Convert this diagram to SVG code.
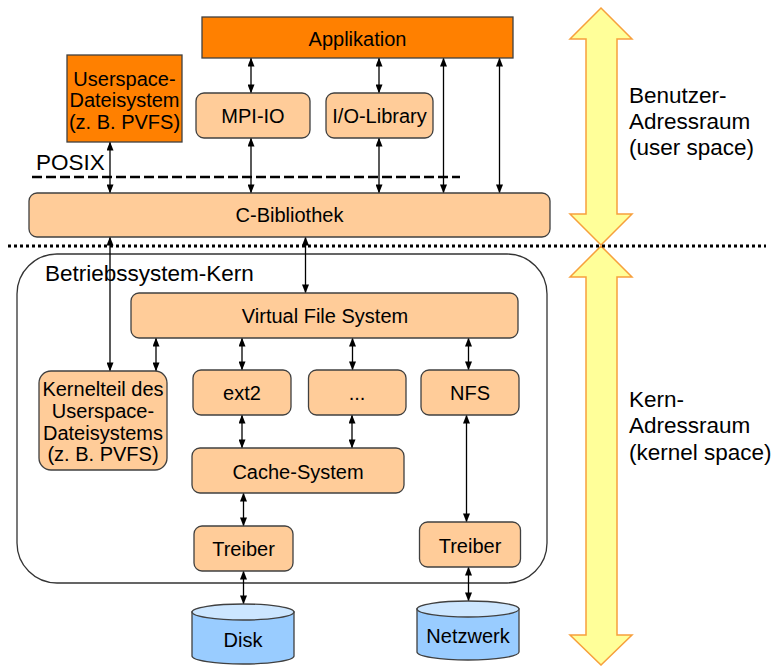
<svg xmlns="http://www.w3.org/2000/svg" width="774" height="666" viewBox="0 0 774 666">
  <defs>
    <marker id="ah" viewBox="0 0 9 7" refX="8.6" refY="3.5" markerWidth="9" markerHeight="7" orient="auto-start-reverse" markerUnits="userSpaceOnUse">
      <path d="M0,0 L9,3.5 L0,7 z" fill="#000"/>
    </marker>
    <style>
      text { font-family: "Liberation Sans", Arial, sans-serif; fill: #000; }
      .lbl { font-size: 20px; text-anchor: middle; }
      .big { font-size: 22.5px; }
      .peach { fill: #FFCC99; stroke: #404040; stroke-width: 1.3; }
      .orange { fill: #FF8000; stroke: #404040; stroke-width: 1.3; }
      .conn line { stroke: #000; stroke-width: 1.3; marker-start: url(#ah); marker-end: url(#ah); }
      .cylbody { fill: #99CCFF; stroke: #404040; stroke-width: 1.3; }
      .cyltop { fill: #CCE6FF; stroke: #404040; stroke-width: 1.3; }
      .space { fill: #FFFF99; stroke: #F7A03C; stroke-width: 1.5; }
    </style>
  </defs>

  <!-- address-space arrows -->
  <g id="space-arrows">
    <polygon class="space" points="601,8 632,39 617,39 617,214 632,214 601,245 570,214 586,214 586,39 570,39"/>
    <polygon class="space" points="601,246 632,277 617,277 617,635 632,635 601,665 570,635 586,635 586,277 570,277"/>
  </g>
  <g id="space-labels">
    <text class="big" x="629" y="103">Benutzer-</text>
    <text class="big" x="629" y="129">Adressraum</text>
    <text class="big" x="629" y="155">(user space)</text>
    <text class="big" x="629" y="407">Kern-</text>
    <text class="big" x="629" y="433">Adressraum</text>
    <text class="big" x="629" y="460">(kernel space)</text>
  </g>

  <!-- kernel boundary -->
  <g id="kernel">
    <rect x="17" y="254" width="530" height="329" rx="40" ry="40" fill="none" stroke="#333" stroke-width="1.3"/>
    <text x="45" y="281" font-size="22.5">Betriebssystem-Kern</text>
  </g>

  <!-- separator lines -->
  <g id="posix">
    <line x1="32" y1="177" x2="460" y2="177" stroke="#000" stroke-width="2.5" stroke-dasharray="10 4"/>
    <text class="big" x="36" y="170">POSIX</text>
  </g>
  <line id="user-kernel-boundary" x1="8" y1="246" x2="766" y2="246" stroke="#000" stroke-width="3" stroke-dasharray="3 3"/>

  <!-- connectors -->
  <g id="connectors" class="conn">
    <line x1="251" y1="58" x2="251" y2="93"/>
    <line x1="379" y1="58" x2="379" y2="93"/>
    <line x1="443.5" y1="58" x2="443.5" y2="193"/>
    <line x1="499.5" y1="58" x2="499.5" y2="193"/>
    <line x1="110" y1="142" x2="110" y2="193"/>
    <line x1="251" y1="138" x2="251" y2="193"/>
    <line x1="379" y1="138" x2="379" y2="193"/>
    <line x1="110" y1="237" x2="110" y2="371"/>
    <line x1="305.5" y1="237" x2="305.5" y2="293"/>
    <line x1="156" y1="338" x2="156" y2="371"/>
    <line x1="242" y1="338" x2="242" y2="370"/>
    <line x1="352.5" y1="338" x2="352.5" y2="370"/>
    <line x1="468.5" y1="338" x2="468.5" y2="370"/>
    <line x1="242" y1="415" x2="242" y2="448"/>
    <line x1="352" y1="415" x2="352" y2="448"/>
    <line x1="466.5" y1="415" x2="466.5" y2="522"/>
    <line x1="243.5" y1="493" x2="243.5" y2="526"/>
    <line x1="243.5" y1="571" x2="243.5" y2="604"/>
    <line x1="468.5" y1="567" x2="468.5" y2="601"/>
  </g>

  <!-- user space nodes -->
  <g id="applikation">
    <rect class="orange" x="202" y="17" width="311" height="41"/>
    <text class="lbl" x="357.5" y="46">Applikation</text>
  </g>
  <g id="userspace-fs">
    <rect class="orange" x="67" y="55" width="115" height="87"/>
    <text class="lbl" x="124.5" y="86">Userspace-</text>
    <text class="lbl" x="124.5" y="107">Dateisystem</text>
    <text class="lbl" x="124.5" y="128.5">(z. B. PVFS)</text>
  </g>
  <g id="mpi-io">
    <rect class="peach" x="196" y="93" width="114" height="45" rx="8"/>
    <text class="lbl" x="253" y="123">MPI-IO</text>
  </g>
  <g id="io-library">
    <rect class="peach" x="326" y="93" width="107" height="45" rx="8"/>
    <text class="lbl" x="379.5" y="123">I/O-Library</text>
  </g>
  <g id="c-bibliothek">
    <rect class="peach" x="29" y="193" width="521" height="44" rx="8"/>
    <text class="lbl" x="289.5" y="222">C-Bibliothek</text>
  </g>

  <!-- kernel nodes -->
  <g id="vfs">
    <rect class="peach" x="131" y="293" width="387" height="45" rx="8"/>
    <text class="lbl" x="325" y="323">Virtual File System</text>
  </g>
  <g id="kernelteil">
    <rect class="peach" x="39" y="371" width="128" height="99" rx="12"/>
    <text class="lbl" x="103" y="396">Kernelteil des</text>
    <text class="lbl" x="103" y="418">Userspace-</text>
    <text class="lbl" x="103" y="439.5">Dateisystems</text>
    <text class="lbl" x="103" y="461">(z. B. PVFS)</text>
  </g>
  <g id="ext2">
    <rect class="peach" x="193" y="370" width="98" height="45" rx="8"/>
    <text class="lbl" x="242" y="400">ext2</text>
  </g>
  <g id="other-fs">
    <rect class="peach" x="308.5" y="370" width="97.5" height="45" rx="8"/>
    <text class="lbl" x="357" y="400">...</text>
  </g>
  <g id="nfs">
    <rect class="peach" x="421" y="370" width="98" height="45" rx="8"/>
    <text class="lbl" x="470" y="400">NFS</text>
  </g>
  <g id="cache-system">
    <rect class="peach" x="192" y="448" width="212" height="45" rx="8"/>
    <text class="lbl" x="298" y="479">Cache-System</text>
  </g>
  <g id="treiber-disk">
    <rect class="peach" x="194" y="526" width="99" height="45" rx="8"/>
    <text class="lbl" x="243.5" y="556">Treiber</text>
  </g>
  <g id="treiber-net">
    <rect class="peach" x="419.5" y="522" width="101" height="45" rx="8"/>
    <text class="lbl" x="470" y="552.5">Treiber</text>
  </g>

  <!-- devices -->
  <g id="disk">
    <path class="cylbody" d="M192,612 L192,656 A51,8 0 0 0 294,656 L294,612 z"/>
    <ellipse class="cyltop" cx="243" cy="612" rx="51" ry="8"/>
    <text class="lbl" x="243" y="646.5">Disk</text>
  </g>
  <g id="netzwerk">
    <path class="cylbody" d="M417,609 L417,652 A51,8 0 0 0 519,652 L519,609 z"/>
    <ellipse class="cyltop" cx="468" cy="609" rx="51" ry="8"/>
    <text class="lbl" x="468" y="643">Netzwerk</text>
  </g>
</svg>
